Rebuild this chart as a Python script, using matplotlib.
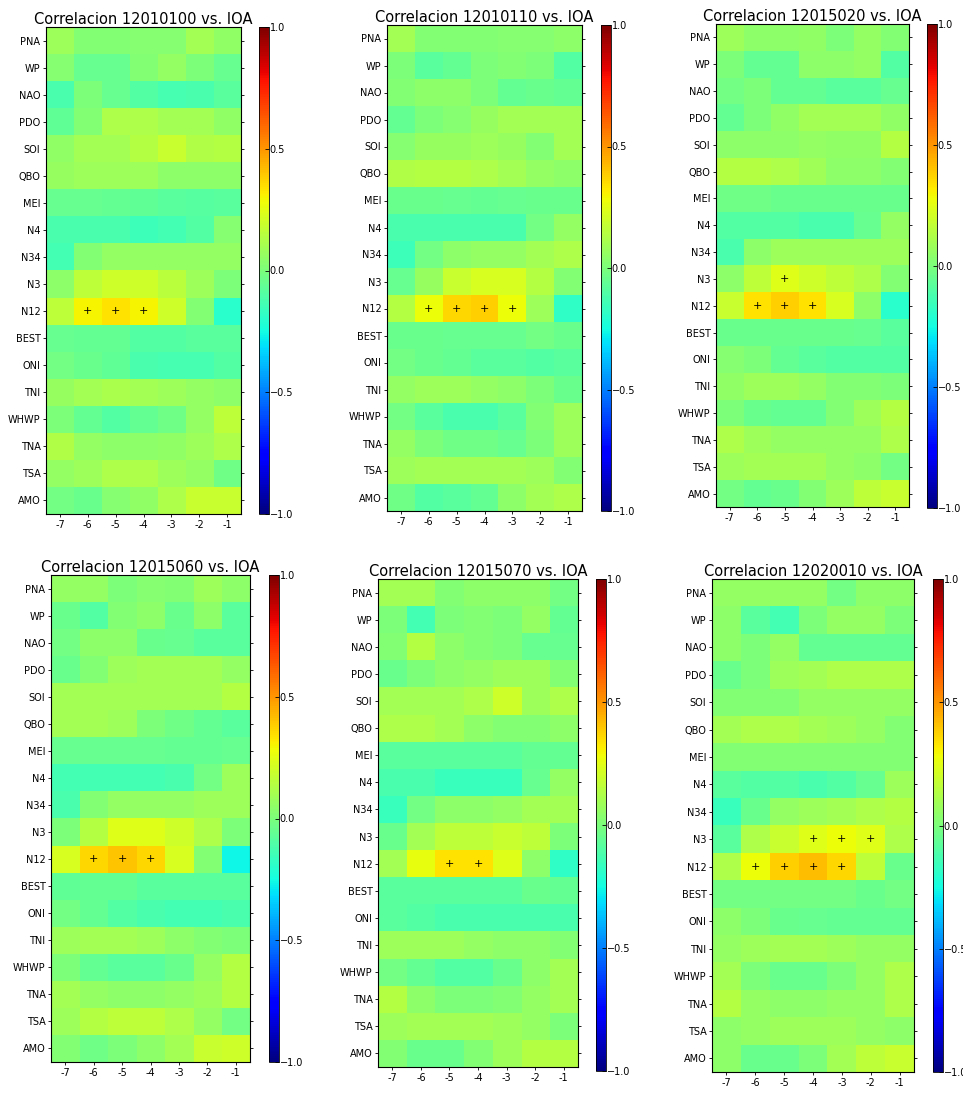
import numpy as np
import matplotlib
matplotlib.use("Agg")
import matplotlib.pyplot as plt

# Indices (rows) and lags (columns)
indices = ['PNA', 'WP', 'NAO', 'PDO', 'SOI', 'QBO', 'MEI', 'N4', 'N34', 'N3',
           'N12', 'BEST', 'ONI', 'TNI', 'WHWP', 'TNA', 'TSA', 'AMO']
lags = [-7, -6, -5, -4, -3, -2, -1]
stations = ['12010100', '12010110', '12015020', '12015060', '12015070', '12020010']

corr_12010100 = [
    [0.08, 0.02, 0.02, 0.03, 0.03, 0.10, 0.05],
    [0.03, -0.05, -0.05, 0.02, 0.06, 0.00, -0.05],
    [-0.12, 0.00, -0.05, -0.10, -0.13, -0.12, -0.08],
    [-0.07, 0.02, 0.12, 0.12, 0.10, 0.10, 0.05],
    [0.05, 0.10, 0.10, 0.14, 0.18, 0.13, 0.14],
    [0.07, 0.08, 0.08, 0.08, 0.04, 0.04, 0.04],
    [-0.05, -0.05, -0.06, -0.07, -0.08, -0.09, -0.08],
    [-0.12, -0.12, -0.12, -0.15, -0.14, -0.10, 0.03],
    [-0.14, 0.02, 0.06, 0.06, 0.06, 0.06, 0.06],
    [0.04, 0.16, 0.20, 0.20, 0.15, 0.08, 0.00],
    [0.16, 0.30, 0.34, 0.30, 0.20, 0.02, -0.20],
    [-0.05, -0.06, -0.06, -0.10, -0.10, -0.08, -0.08],
    [-0.02, -0.04, -0.07, -0.12, -0.13, -0.13, -0.10],
    [0.07, 0.10, 0.11, 0.10, 0.08, 0.06, 0.04],
    [0.00, -0.06, -0.10, -0.06, -0.03, 0.06, 0.16],
    [0.13, 0.06, 0.04, 0.04, 0.05, 0.08, 0.12],
    [0.06, 0.08, 0.12, 0.12, 0.08, 0.06, -0.03],
    [-0.02, -0.04, 0.03, 0.05, 0.12, 0.18, 0.18],
]
corr_12010110 = [
    [0.10, 0.02, 0.02, 0.02, 0.03, 0.03, 0.04],
    [0.00, -0.08, -0.06, 0.00, 0.02, 0.00, -0.10],
    [0.02, 0.04, 0.04, 0.00, -0.06, -0.04, -0.06],
    [-0.06, 0.00, 0.03, 0.07, 0.10, 0.10, 0.10],
    [0.03, 0.07, 0.07, 0.08, 0.07, 0.02, 0.10],
    [0.13, 0.14, 0.14, 0.12, 0.10, 0.06, 0.04],
    [-0.04, -0.04, -0.05, -0.06, -0.05, -0.04, -0.04],
    [-0.12, -0.12, -0.12, -0.12, -0.12, -0.02, 0.06],
    [-0.15, -0.02, 0.04, 0.06, 0.06, 0.10, 0.12],
    [-0.05, 0.07, 0.18, 0.22, 0.22, 0.14, 0.02],
    [0.14, 0.28, 0.36, 0.38, 0.28, 0.08, -0.18],
    [-0.04, -0.04, -0.05, -0.05, -0.05, -0.02, -0.04],
    [-0.02, -0.04, -0.06, -0.08, -0.08, -0.10, -0.08],
    [0.06, 0.08, 0.08, 0.06, 0.04, 0.00, -0.04],
    [-0.02, -0.08, -0.12, -0.12, -0.08, 0.02, 0.08],
    [0.06, 0.00, -0.03, -0.03, -0.05, 0.00, 0.08],
    [0.08, 0.10, 0.10, 0.10, 0.10, 0.08, 0.02],
    [-0.03, -0.10, -0.08, -0.06, 0.04, 0.10, 0.12],
]
corr_12015020 = [
    [0.08, 0.04, 0.04, 0.05, 0.00, 0.06, 0.02],
    [0.00, -0.06, -0.06, 0.04, 0.04, 0.06, -0.10],
    [-0.02, 0.00, -0.06, -0.06, -0.08, -0.08, -0.05],
    [-0.06, 0.00, 0.05, 0.10, 0.10, 0.10, 0.05],
    [0.04, 0.04, 0.04, 0.06, 0.05, 0.05, 0.14],
    [0.14, 0.14, 0.12, 0.09, 0.04, 0.04, 0.02],
    [-0.03, -0.03, -0.04, -0.04, -0.04, -0.04, -0.04],
    [-0.10, -0.10, -0.10, -0.12, -0.12, -0.05, 0.06],
    [-0.12, 0.04, 0.08, 0.08, 0.08, 0.08, 0.08],
    [0.04, 0.16, 0.24, 0.20, 0.16, 0.12, 0.02],
    [0.18, 0.34, 0.38, 0.34, 0.22, 0.04, -0.20],
    [-0.04, -0.04, -0.04, -0.04, -0.04, -0.05, -0.08],
    [0.03, 0.00, -0.06, -0.08, -0.10, -0.10, -0.10],
    [0.05, 0.08, 0.08, 0.06, 0.02, 0.02, 0.00],
    [0.00, -0.04, -0.06, -0.06, 0.02, 0.08, 0.14],
    [0.12, 0.08, 0.06, 0.06, 0.06, 0.06, 0.12],
    [0.08, 0.10, 0.10, 0.10, 0.06, 0.04, -0.02],
    [-0.02, -0.06, -0.04, 0.02, 0.08, 0.16, 0.18],
]
corr_12015060 = [
    [0.06, 0.06, 0.00, 0.03, 0.02, 0.08, 0.04],
    [-0.04, -0.10, 0.02, 0.04, -0.04, 0.04, -0.08],
    [-0.02, 0.04, 0.04, -0.04, -0.05, -0.08, -0.08],
    [-0.04, 0.02, 0.08, 0.10, 0.10, 0.10, 0.06],
    [0.10, 0.10, 0.10, 0.10, 0.10, 0.10, 0.14],
    [0.10, 0.10, 0.08, 0.00, -0.03, -0.06, -0.08],
    [-0.05, -0.05, -0.05, -0.05, -0.06, -0.06, -0.05],
    [-0.14, -0.14, -0.14, -0.14, -0.12, -0.02, 0.08],
    [-0.12, 0.02, 0.06, 0.06, 0.06, 0.08, 0.08],
    [0.00, 0.14, 0.24, 0.24, 0.20, 0.12, 0.00],
    [0.22, 0.36, 0.40, 0.36, 0.22, 0.02, -0.26],
    [-0.07, -0.06, -0.06, -0.08, -0.08, -0.08, -0.08],
    [-0.02, -0.06, -0.10, -0.12, -0.14, -0.14, -0.12],
    [0.08, 0.10, 0.10, 0.08, 0.04, 0.02, 0.00],
    [0.00, -0.06, -0.08, -0.08, -0.04, 0.06, 0.14],
    [0.10, 0.06, 0.04, 0.04, 0.06, 0.08, 0.14],
    [0.08, 0.14, 0.16, 0.16, 0.12, 0.06, -0.02],
    [0.02, -0.03, 0.00, 0.04, 0.10, 0.18, 0.20],
]
corr_12015070 = [
    [0.10, 0.10, 0.02, 0.04, 0.04, 0.04, -0.02],
    [0.00, -0.14, 0.00, 0.02, 0.00, 0.06, -0.06],
    [0.02, 0.14, 0.04, 0.02, 0.00, -0.05, -0.05],
    [-0.04, 0.00, 0.04, 0.06, 0.08, 0.08, 0.02],
    [0.10, 0.10, 0.10, 0.12, 0.20, 0.08, 0.12],
    [0.12, 0.12, 0.10, 0.04, 0.02, 0.02, 0.04],
    [-0.08, -0.08, -0.08, -0.08, -0.08, -0.06, -0.06],
    [-0.12, -0.12, -0.16, -0.16, -0.16, -0.05, 0.06],
    [-0.16, -0.02, 0.04, 0.04, 0.06, 0.10, 0.10],
    [-0.04, 0.10, 0.16, 0.16, 0.18, 0.16, 0.00],
    [0.10, 0.26, 0.34, 0.34, 0.24, 0.04, -0.18],
    [-0.08, -0.08, -0.08, -0.08, -0.08, -0.04, -0.06],
    [-0.08, -0.10, -0.12, -0.12, -0.12, -0.12, -0.12],
    [0.08, 0.08, 0.08, 0.06, 0.04, 0.04, 0.02],
    [-0.02, -0.06, -0.10, -0.10, -0.04, 0.04, 0.10],
    [0.14, 0.04, 0.00, 0.00, 0.02, 0.06, 0.10],
    [0.08, 0.10, 0.10, 0.10, 0.08, 0.06, 0.00],
    [0.02, -0.04, -0.04, 0.02, 0.08, 0.14, 0.14],
]
corr_12020010 = [
    [0.06, 0.06, 0.06, 0.06, -0.02, 0.04, 0.04],
    [0.04, -0.08, -0.14, 0.00, 0.06, 0.06, 0.00],
    [0.04, 0.00, 0.06, -0.06, -0.06, -0.06, -0.06],
    [-0.04, 0.00, 0.08, 0.10, 0.12, 0.12, 0.12],
    [0.02, 0.02, 0.02, 0.06, 0.06, 0.06, 0.06],
    [0.10, 0.12, 0.12, 0.10, 0.08, 0.06, 0.02],
    [0.02, 0.02, 0.02, 0.02, 0.02, 0.02, 0.02],
    [-0.08, -0.10, -0.10, -0.12, -0.10, -0.05, 0.08],
    [-0.16, -0.04, 0.06, 0.08, 0.10, 0.12, 0.14],
    [-0.08, 0.12, 0.18, 0.24, 0.28, 0.24, 0.12],
    [0.12, 0.28, 0.38, 0.42, 0.36, 0.16, -0.04],
    [-0.02, -0.02, -0.02, -0.02, -0.02, -0.04, -0.02],
    [0.04, 0.00, -0.04, -0.05, -0.06, -0.06, -0.06],
    [0.06, 0.08, 0.10, 0.10, 0.08, 0.06, 0.06],
    [0.10, 0.00, -0.04, -0.04, 0.00, 0.06, 0.12],
    [0.14, 0.06, 0.04, 0.04, 0.06, 0.06, 0.12],
    [0.04, 0.06, 0.08, 0.08, 0.08, 0.06, 0.04],
    [0.04, -0.04, -0.04, 0.00, 0.10, 0.16, 0.18],
]

# significant cells, as (index, lag)
sig_12010100 = [('N12', -6), ('N12', -5), ('N12', -4)]
sig_12010110 = [('N12', -6), ('N12', -5), ('N12', -4), ('N12', -3)]
sig_12015020 = [('N3', -5), ('N12', -6), ('N12', -5), ('N12', -4)]
sig_12015060 = [('N12', -6), ('N12', -5), ('N12', -4)]
sig_12015070 = [('N12', -5), ('N12', -4)]
sig_12020010 = [('N3', -4), ('N3', -3), ('N3', -2),
                ('N12', -6), ('N12', -5), ('N12', -4), ('N12', -3)]

corrs = [corr_12010100, corr_12010110, corr_12015020,
         corr_12015060, corr_12015070, corr_12020010]
sigs = [sig_12010100, sig_12010110, sig_12015020,
        sig_12015060, sig_12015070, sig_12020010]

# pixel boxes (left, top, right, bottom) for heatmap and colorbar
W, H = 963, 1105
heat_px = [(46, 27, 241, 514), (387, 25, 582, 511), (716, 24, 909, 507),
           (51, 575, 250, 1062), (378, 579, 578, 1067), (712, 579, 914, 1072)]
cbar_px = [(259, 27, 269, 514), (601, 25, 611, 511), (927, 24, 937, 508),
           (269, 575, 279, 1062), (596, 579, 606, 1071), (933, 579, 943, 1072)]


def px_rect(box):
    l, t, r, b = box
    return [l / W, 1 - b / H, (r - l) / W, (b - t) / H]


fig = plt.figure(figsize=(W / 100, H / 100), dpi=100)

for k in range(6):
    data = np.array(corrs[k])
    ax = fig.add_axes(px_rect(heat_px[k]))
    im = ax.imshow(data, cmap='jet', vmin=-1, vmax=1, aspect='auto',
                   interpolation='nearest')
    for name, lag in sigs[k]:
        ax.text(lags.index(lag), indices.index(name), '+', ha='center',
                va='center', fontsize=8, color='black')
    ax.set_yticks(range(len(indices)))
    ax.set_yticklabels(indices, fontsize=7)
    ax.set_xticks(range(len(lags)))
    ax.set_xticklabels([str(l) for l in lags], fontsize=7)
    ax.tick_params(length=2.5, width=0.6, pad=1.5)
    ax.tick_params(axis='y', right=True)
    for s in ax.spines.values():
        s.set_linewidth(0.8)
    ax.set_title('Correlacion %s vs. IOA' % stations[k], fontsize=10.5, pad=2)

    cax = fig.add_axes(px_rect(cbar_px[k]))
    cb = fig.colorbar(im, cax=cax, ticks=[-1.0, -0.5, 0.0, 0.5, 1.0])
    cb.ax.tick_params(labelsize=7, direction='in', length=3, width=0.6, pad=0.5)
    cb.outline.set_linewidth(0.6)

fig.savefig('out.png', dpi=100)
